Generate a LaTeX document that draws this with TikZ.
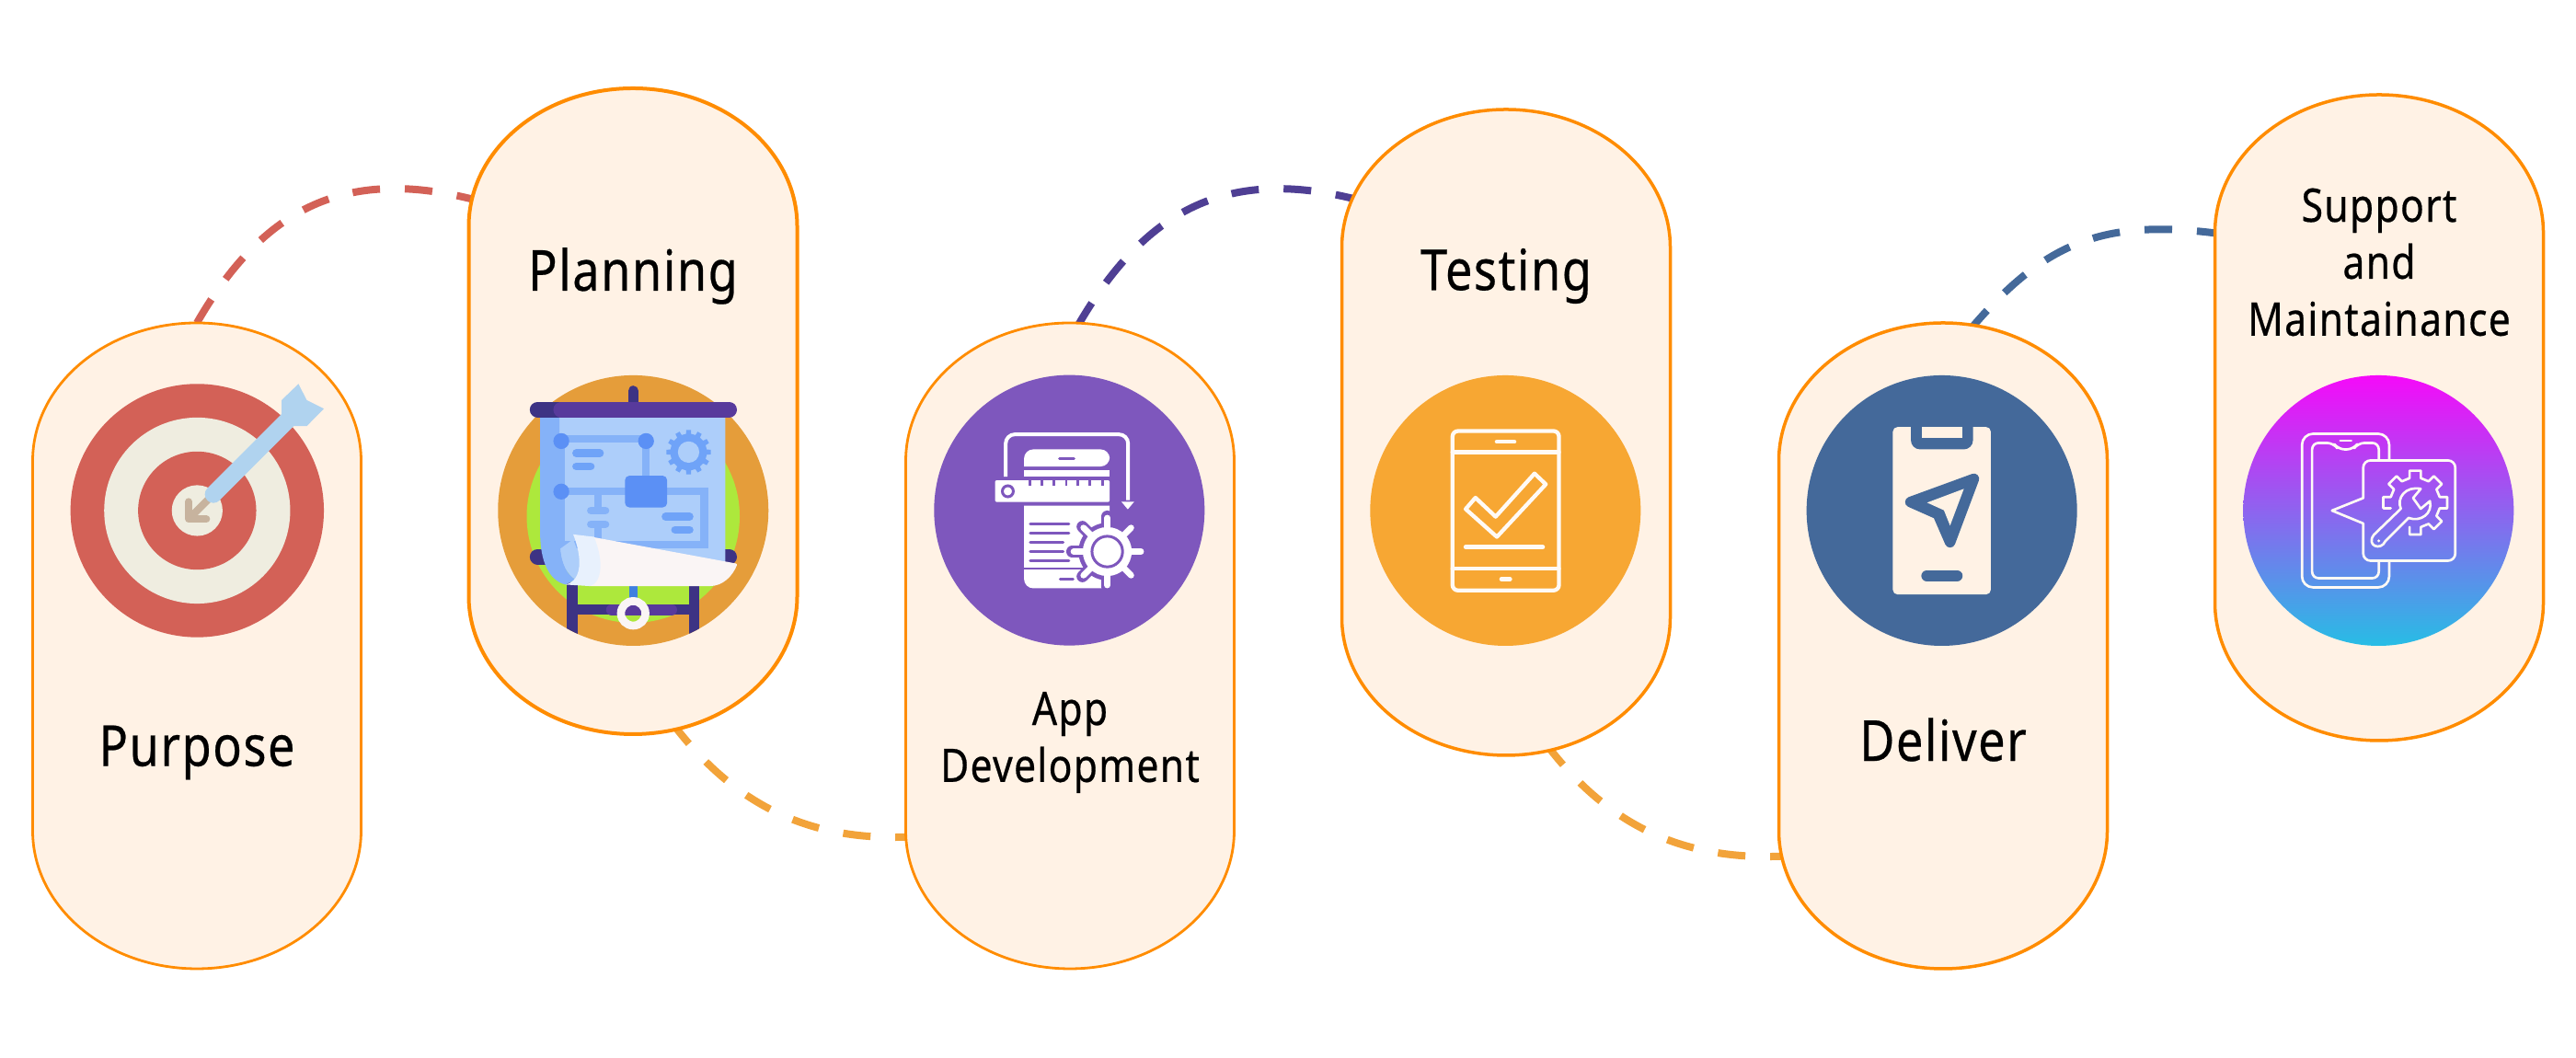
\documentclass[tikz,border=0pt]{standalone}
\usepackage{fontspec}
\newfontfamily\labelfont[FakeStretch=0.85,LetterSpace=2.5,FakeBold=0.4]{Noto Sans}
\usetikzlibrary{positioning}

\definecolor{pillfill}{HTML}{FFF2E5}
\definecolor{pillline}{HTML}{FF8C00}
\definecolor{targetred}{HTML}{D36157}
\definecolor{targetcream}{HTML}{EFEDE0}
\definecolor{dartblue}{HTML}{B0D3EF}
\definecolor{dartbrown}{HTML}{C7B39E}
\definecolor{linknavy}{HTML}{4F3F94}
\definecolor{linkorange}{HTML}{F2A33A}
\definecolor{boardorange}{HTML}{E59D3A}
\definecolor{boardlime}{HTML}{ADE83C}
\definecolor{boarddark}{HTML}{3D3384}
\definecolor{boardpurple}{HTML}{583A9C}
\definecolor{boardlight}{HTML}{ADCEFA}
\definecolor{boardmid}{HTML}{85B2F8}
\definecolor{boardsoft}{HTML}{6FA3F8}
\definecolor{boardnode}{HTML}{5B90F5}
\definecolor{boardpost}{HTML}{3F7FE0}
\definecolor{sheetwhite}{HTML}{FAF5F5}
\definecolor{sheetcurl}{HTML}{E8F1FD}
\definecolor{apppurple}{HTML}{7E57BD}
\definecolor{testorange}{HTML}{F7A733}
\definecolor{deliverblue}{HTML}{44699A}
\definecolor{iconwhite}{HTML}{FFFAF5}
\definecolor{fadetop}{HTML}{F50AF9}
\definecolor{fademid}{HTML}{8F5FEF}
\definecolor{fadebottom}{HTML}{27BDE5}

\newcommand{\zp}{0.00333cm}

% the pill outline, hung on the corners of an empty node
\newcommand{\pillshape}[2]{
\draw[fill=pillfill, draw=pillline, line width=#1] ([yshift=-1.5cm]#2.north west)
  arc[start angle=180, end angle=0, x radius=1.785cm, y radius=1.5cm]
  -- ([yshift=1.5cm]#2.south east)
  arc[start angle=0, end angle=-180, x radius=1.785cm, y radius=1.5cm] -- cycle;
}

\tikzset{
  pillbox/.style = {rectangle, minimum width=3.57cm, minimum height=7.02cm, inner sep=0, outer sep=0},
  link/.style = {line width=0.08cm, dash pattern=on 0.30cm off 0.27cm},
  biglabel/.style = {font=\labelfont\fontsize{17.5}{22}\selectfont, inner sep=0},
  smalllabel/.style = {font=\labelfont\fontsize{14.3}{17.6}\selectfont, align=center, inner sep=0},
  icon/.style = {shift={(#1)}, x=\zp, y=-\zp},
  stroke/.style = {line width=#1*\zp, line cap=round},
  thin white/.style = {draw=iconwhite, line width=13*\zp, line join=round, line cap=round}
}

\begin{document}
\begin{tikzpicture}
\useasboundingbox (0, 0) rectangle (28, 11.5);

\node[pillbox] (purpose) at (2.14, 4.48) {};
\node[pillbox] (planning) at (6.88, 7.03) {};
\node[pillbox] (appdev) at (11.63, 4.48) {};
\node[pillbox] (testing) at (16.37, 6.80) {};
\node[pillbox] (deliver) at (21.12, 4.48) {};
\node[pillbox] (support) at (25.86, 6.96) {};

\coordinate (planning in) at (5.30, 9.29);
\coordinate (planning out) at (7.30, 3.65);
\coordinate (appdev in) at (10.00, 2.41);
\coordinate (appdev out) at (11.71, 7.95);
\coordinate (testing in) at (14.90, 9.29);
\coordinate (testing out) at (16.80, 3.42);
\coordinate (deliver in) at (19.50, 2.20);
\coordinate (deliver out) at (21.40, 7.90);
\coordinate (support in) at (24.20, 8.95);

\draw[link, draw=targetred] (purpose.north) to[out=60, in=164, looseness=1.14] (planning in);
\draw[link, draw=linkorange] (planning out) to[out=-53, in=184, looseness=1.0] (appdev in);
\draw[link, draw=linknavy] (appdev out) to[out=60, in=164, looseness=1.14] (testing in);
\draw[link, draw=linkorange] (testing out) to[out=-53, in=184, looseness=1.0] (deliver in);
\draw[link, draw=deliverblue] (deliver out) to[out=50, in=172, looseness=1.12] (support in);

\pillshape{0.028cm}{purpose}
\pillshape{0.04cm}{planning}
\pillshape{0.028cm}{appdev}
\pillshape{0.035cm}{testing}
\pillshape{0.035cm}{deliver}
\pillshape{0.035cm}{support}

\node[biglabel] (purpose text) at (2.14, 3.32) {Purpose};
\node[biglabel] (planning text) at (6.88, 8.50) {Planning};
\node[smalllabel] (appdev text) at (11.63, 3.43) {App\\Development};
\node[biglabel] (testing text) at (16.37, 8.50) {Testing};
\node[biglabel] (deliver text) at (21.12, 3.46) {Deliver};
\node[smalllabel] (support text) at (25.86, 8.65) {Support\\and\\Maintainance};

% target and dart
\begin{scope}[icon={0.60, 7.50}]
\fill[targetred] (464, 466) circle[radius=414];
\fill[targetcream] (464, 466) circle[radius=304];
\fill[targetred] (464, 466) circle[radius=193];
\fill[targetcream] (464, 466) circle[radius=83];
\draw[dartbrown, stroke=24, line join=round] (436, 437) -- (436, 494) -- (494, 494);
\draw[dartbrown, stroke=24] (440, 490) -- (515, 415);
\draw[dartblue, stroke=56] (517, 413) -- (760, 170);
\fill[dartblue] (740, 105) -- (795, 52) -- (822, 105) -- (878, 133) -- (822, 190) -- (778, 190) -- (740, 150) -- cycle;
\end{scope}

% presentation board
\begin{scope}[icon={5.00, 7.70}]
\fill[boardorange] (566, 526) circle[radius=442];
\fill[boardlime] (566, 545) circle[radius=348];
\begin{scope}
\clip (566, 526) circle[radius=442];
\fill[boarddark] (350, 760) rectangle (384, 940);
\fill[boarddark] (748, 760) rectangle (783, 940);
\end{scope}
\fill[boarddark] (384, 832) rectangle (748, 867);
\draw[boardpurple, stroke=35] (495, 850) -- (692, 850);
\fill[boardpost] (553, 770) rectangle (580, 815);
\draw[sheetwhite, line width=26*\zp] (566, 862) circle[radius=40];
\draw[boarddark, stroke=34] (566, 135) -- (566, 190);
\draw[boarddark, stroke=52] (254, 677) -- (350, 677);
\draw[boarddark, stroke=52] (800, 677) -- (879, 677);
\fill[boardlight] (325, 222) -- (867, 222) -- (867, 720) -- (400, 765) -- (325, 700) -- cycle;
% roller
\fill[boardmid] (262, 222) -- (325, 222) -- (328, 650) .. controls (332, 700) and (350, 735) .. (378, 752) -- (345, 768) .. controls (290, 755) and (262, 690) .. (262, 600) -- cycle;
\draw[boarddark, stroke=52] (254, 196) -- (320, 196);
\draw[boardpurple, stroke=52] (331, 196) -- (879, 196);
% circuit on the sheet
\draw[boardmid, line width=25*\zp] (608, 420) -- (608, 291) -- (331, 291) -- (331, 637) -- (798, 637) -- (798, 464) -- (331, 464);
\draw[boardmid, line width=25*\zp] (451, 476) -- (451, 526);
\draw[boardmid, line width=25*\zp] (451, 571) -- (451, 625);
\draw[boardmid, stroke=26] (428, 526) -- (475, 526);
\draw[boardmid, stroke=26] (428, 571) -- (475, 571);
\fill[boardnode] (331, 299) circle[radius=26];
\fill[boardnode] (608, 299) circle[radius=26];
\fill[boardnode] (331, 464) circle[radius=26];
\fill[boardnode, rounded corners=0.05cm] (539, 412) rectangle (677, 516);
\draw[boardsoft, stroke=26] (380, 339) -- (457, 339);
\draw[boardsoft, stroke=26] (380, 382) -- (427, 382);
\draw[boardsoft, stroke=26] (672, 546) -- (750, 546);
\draw[boardsoft, stroke=26] (703, 589) -- (750, 589);
\begin{scope}[shift={(747, 335)}]
\fill[boardsoft] (-8:60) \foreach \a in {0, 30, ..., 330} { -- (\a-8:60) -- (\a-6:73) -- (\a+6:73) -- (\a+8:60) } -- cycle;
\fill[boardlight] (0, 0) circle[radius=35];
\end{scope}
% curled sheet
\fill[boardlight] (329, 650) .. controls (332, 700) and (350, 735) .. (378, 752) -- (400, 700) -- (370, 620) -- cycle;
\fill[sheetwhite, rounded corners=0.02cm] (430, 612) -- (907, 700) .. controls (890, 740) and (860, 773) .. (810, 773) -- (420, 773) -- cycle;
\fill[sheetcurl] (370, 604) -- (438, 612) .. controls (470, 690) and (465, 760) .. (425, 773) -- (345, 768) .. controls (400, 755) and (400, 680) .. (370, 604) -- cycle;
\end{scope}

% phone, ruler and gear
\begin{scope}[icon={10.00, 7.60}]
\fill[apppurple] (488, 495) circle[radius=442];
\fill[white, rounded corners=0.1cm] (340, 352) -- (340, 296) -- (620, 296) -- (620, 352) [sharp corners] -- cycle;
\fill[white] (340, 365) rectangle (620, 385);
\fill[white, rounded corners=0.02cm] (245, 397) rectangle (620, 468);
\foreach \x in {358, 398, 438, 478, 517, 556, 596}
  \draw[apppurple, line width=9*\zp] (\x, 395) -- (\x, 415);
\draw[apppurple, line width=9*\zp, fill=white] (287, 433) circle[radius=18];
\draw[apppurple, stroke=9] (456, 325) -- (503, 325);
\fill[white, rounded corners=0.1cm] (340, 480) [sharp corners] -- (620, 480) -- (620, 750) [rounded corners=0.1cm] -- (340, 750) [sharp corners] -- cycle;
\foreach \y/\e in {540/487, 570/487, 600/468, 630/468, 660/487}
  \draw[apppurple, stroke=9] (360, \y) -- (\e, \y);
\draw[apppurple, line width=5*\zp] (340, 686) -- (540, 686);
\draw[apppurple, stroke=9] (458, 721) -- (500, 721);
\draw[white, line width=12*\zp, rounded corners=0.1cm] (280, 385) -- (280, 247) -- (680, 247) -- (680, 462);
\fill[white] (658, 467) -- (700, 467) -- (679, 492) -- cycle;
\begin{scope}[shift={(612, 630)}]
\fill[apppurple] (0, 0) circle[radius=94];
\foreach \a in {0, 45, ..., 315}
  \draw[apppurple, stroke=38] (0, 0) -- (\a:115);
\fill[white] (0, 0) circle[radius=80];
\foreach \a in {0, 45, ..., 315}
  \draw[white, stroke=20] (0, 0) -- (\a:110);
\draw[apppurple, line width=9*\zp, fill=white] (0, 0) circle[radius=50];
\end{scope}
\end{scope}

% phone with check mark
\begin{scope}[icon={14.80, 7.50}]
\fill[testorange] (470, 466) circle[radius=442];
\draw[thin white, rounded corners=0.06cm] (297, 206) rectangle (645, 727);
\draw[thin white] (297, 275) -- (645, 275);
\draw[thin white] (297, 656) -- (645, 656);
\draw[iconwhite, stroke=14] (442, 241) -- (499, 241);
\draw[iconwhite, stroke=14] (457, 690) -- (485, 690);
\draw[thin white] (340, 461) -- (372, 424) -- (438, 486) -- (565, 345) -- (602, 380) -- (442, 552) -- cycle;
\draw[iconwhite, stroke=14] (340, 585) -- (592, 585);
\end{scope}

% phone with pointer
\begin{scope}[icon={19.50, 7.50}]
\fill[deliverblue] (483, 466) circle[radius=442];
\fill[pillfill, rounded corners=0.05cm] (323, 193) rectangle (643, 740);
\fill[deliverblue] (382, 193) [rounded corners=0.1cm] -- (382, 266) -- (585, 266) [sharp corners] -- (585, 193) -- cycle;
\fill[pillfill] (417, 193) rectangle (550, 230);
\draw[deliverblue, stroke=36] (434, 679) -- (533, 679);
\draw[deliverblue, fill=deliverblue, line width=34*\zp, line join=round] (380, 438) -- (588, 362) -- (510, 570) -- (470, 478) -- cycle;
\fill[pillfill] (435, 440) -- (555, 395) -- (510, 515) -- (490, 465) -- cycle;
\end{scope}

% phone with speech box, gear and wrench
\begin{scope}[icon={24.20, 7.50}]
\shade[top color=fadetop, middle color=fademid, bottom color=fadebottom] (497, 466) circle[radius=442];
\tikzset{thin white/.append style = {line width=8*\zp}}
\draw[thin white, rounded corners=0.12cm] (532, 300) -- (532, 215) -- (247, 215) -- (247, 717) -- (532, 717) -- (532, 632);
\draw[thin white, rounded corners=0.07cm] (498, 300) -- (498, 245) -- (430, 245) -- (415, 266) -- (365, 266) -- (350, 245) -- (280, 245) -- (280, 687) -- (498, 687) -- (498, 632);
\draw[thin white] (372, 238) -- (408, 238);
\draw[thin white] (447, 425) [rounded corners=0.08cm] -- (447, 302) -- (748, 302) -- (748, 630) -- (447, 630) [sharp corners] -- (447, 508) -- (345, 466) -- cycle;
\begin{scope}[shift={(617, 440)}]
\draw[thin white] (167:82) \foreach \a in {180, 225, ..., 450} { -- (\a-13:82) -- (\a-10:106) -- (\a+10:106) -- (\a+13:82) };
\end{scope}
\draw[thin white, fill=none] (482, 545) -- (570, 460) .. controls (555, 425) and (585, 385) .. (635, 395) -- (610, 425) -- (635, 460) -- (665, 435) .. controls (675, 475) and (635, 505) .. (595, 490) -- (520, 565) .. controls (505, 600) and (455, 580) .. (482, 545) -- cycle;
\fill[iconwhite] (498, 565) circle[radius=5];
\end{scope}

\end{tikzpicture}
\end{document}
